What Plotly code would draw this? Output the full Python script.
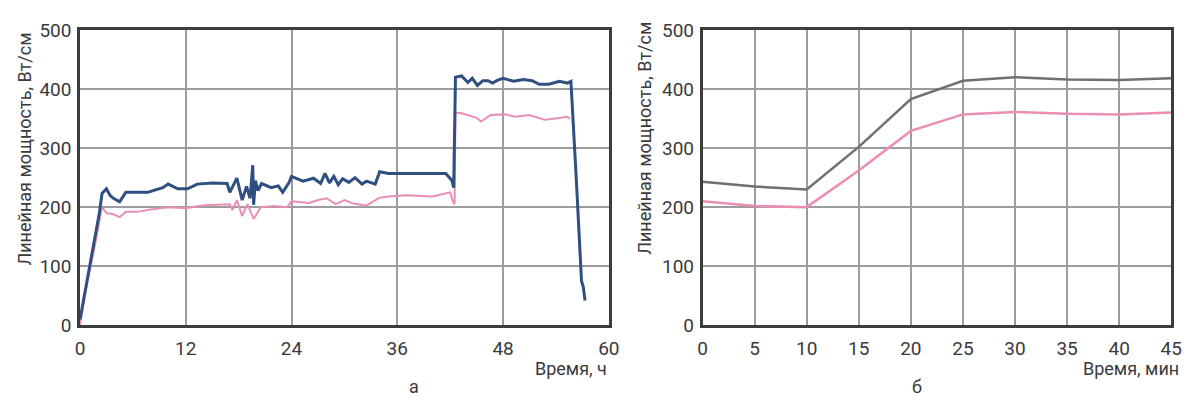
import plotly.graph_objects as go

# ---- Panel a: time in hours ----
t_blue = [0, 0.8, 1.6, 2.2, 2.5, 3.0, 3.4, 3.8, 4.5, 5.2, 6.5, 7.7, 8.3, 9.4, 10.0, 11.1, 12.2, 13.3,
          15.0, 16.7, 17.0, 17.8, 18.4, 18.9, 19.3, 19.6, 19.7, 19.9, 20.2, 20.6, 21.7, 22.5, 23.0,
          23.7, 24.0, 25.3, 26.5, 27.3, 27.8, 28.3, 28.8, 29.3, 29.8, 30.5, 31.2, 32.0, 32.5, 33.5,
          34.0, 35.0, 36.0, 37.6, 39.6, 41.5, 42.2, 42.4, 42.6, 43.3, 44.0, 44.5, 45.1, 45.7, 46.3,
          46.8, 47.4, 48.0, 49.2, 50.3, 51.3, 52.1, 53.2, 54.4, 55.3, 55.7, 56.3, 56.9, 57.1, 57.3]
blue = [10, 75, 137, 190, 223, 231, 220, 215, 209, 225, 225, 225, 228, 233, 239, 231, 231, 239,
        241, 240, 225, 249, 212, 235, 215, 271, 204, 245, 228, 240, 233, 236, 225,
        241, 252, 244, 249, 240, 257, 241, 252, 238, 248, 242, 250, 239, 244, 239,
        260, 257, 257, 257, 257, 257, 245, 233, 420, 422, 411, 418, 406, 414, 414,
        410, 415, 418, 413, 416, 414, 408, 408, 413, 410, 413, 250, 75, 65, 42]

t_pink = [0, 0.8, 1.6, 2.2, 2.5, 3.0, 3.8, 4.5, 5.2, 6.5, 8.0, 10.0, 12.0, 14.0, 16.0, 17.0, 17.3,
          17.8, 18.4, 19.0, 19.7, 20.5, 22.0, 23.5, 24.0, 26.0, 27.0, 28.0, 29.0, 30.0, 31.0, 32.5,
          34.0, 35.0, 37.0, 40.0, 42.0, 42.3, 42.5, 42.6, 43.3, 45.0, 45.5, 46.6, 48.3, 49.4, 51.0,
          52.7, 54.4, 55.2, 55.6]
pink = [0, 70, 128, 180, 200, 190, 188, 183, 192, 192, 196, 200, 198, 203, 205, 205, 195,
        212, 185, 205, 180, 200, 202, 200, 210, 207, 212, 215, 205, 212, 206, 203,
        216, 218, 220, 218, 225, 210, 205, 360, 359, 351, 345, 356, 357, 353, 356,
        348, 351, 353, 350]

# ---- Panel б: time in minutes ----
t_min = [0, 5, 10, 15, 20, 25, 30, 35, 40, 45]
gray_b = [243, 235, 230, 302, 383, 414, 420, 416, 415, 418]
pink_b = [210, 202, 200, 262, 329, 357, 361, 358, 357, 360]

y_ticks = [0, 100, 200, 300, 400, 500]
xa_ticks = [0, 12, 24, 36, 48, 60]
xb_ticks = [0, 5, 10, 15, 20, 25, 30, 35, 40, 45]

FONT = "Roboto, Liberation Sans, sans-serif"
TXT = "#3a3a3a"
GRID = "#9c9c9c"
FRAME = "#3c3c3c"

fig = go.Figure()
fig.add_trace(go.Scatter(x=t_pink, y=pink, mode="lines", line=dict(color="#e88fb3", width=2),
                         xaxis="x", yaxis="y", showlegend=False))
fig.add_trace(go.Scatter(x=t_blue, y=blue, mode="lines", line=dict(color="#2f4f80", width=3),
                         xaxis="x", yaxis="y", showlegend=False))
fig.add_trace(go.Scatter(x=t_min, y=gray_b, mode="lines", line=dict(color="#707070", width=2.5),
                         xaxis="x2", yaxis="y2", showlegend=False))
fig.add_trace(go.Scatter(x=t_min, y=pink_b, mode="lines", line=dict(color="#ea8fb3", width=2.5),
                         xaxis="x2", yaxis="y2", showlegend=False))

yd = [77 / 410, 390 / 410]
common_axis = dict(showline=True, mirror=True, linecolor=FRAME, linewidth=2.5,
                   showgrid=True, gridcolor=GRID, gridwidth=1.5, zeroline=False,
                   ticks="", tickfont=dict(family=FONT, size=19, color=TXT))

fig.update_layout(
    width=1198, height=410,
    margin=dict(l=0, r=0, t=0, b=0),
    paper_bgcolor="white", plot_bgcolor="white",
    xaxis=dict(domain=[76 / 1198, 612 / 1198], range=[0, 60], tickvals=xa_ticks,
               anchor="y", ticklabelstandoff=4, **common_axis),
    yaxis=dict(domain=yd, range=[0, 500], tickvals=y_ticks, anchor="x",
               ticklabelstandoff=2, **common_axis),
    xaxis2=dict(domain=[707 / 1198, 1182 / 1198], range=[0, 45], tickvals=xb_ticks,
                anchor="y2", ticklabelstandoff=4, **common_axis),
    yaxis2=dict(domain=yd, range=[0, 500], tickvals=y_ticks, anchor="x2",
                ticklabelstandoff=2, **common_axis),
)

ann = [
    dict(text="Линейная мощность, Вт/см", x=20 / 1198, y=1 - 146 / 410, textangle=-90),
    dict(text="Линейная мощность, Вт/см", x=648 / 1198, y=1 - 135 / 410, textangle=-90),
    dict(text="Время, ч", x=612 / 1198, y=1 - 379 / 410, xanchor="right"),
    dict(text="Время, мин", x=1192 / 1198, y=1 - 379 / 410, xanchor="right"),
    dict(text="а", x=415 / 1198, y=1 - 398 / 410),
    dict(text="б", x=924 / 1198, y=1 - 398 / 410),
]
for a in ann:
    a.setdefault("xanchor", "center")
    fig.add_annotation(xref="paper", yref="paper", showarrow=False, yanchor="middle",
                       font=dict(family=FONT, size=18, color=TXT), **a)

fig.write_html("out.html")
